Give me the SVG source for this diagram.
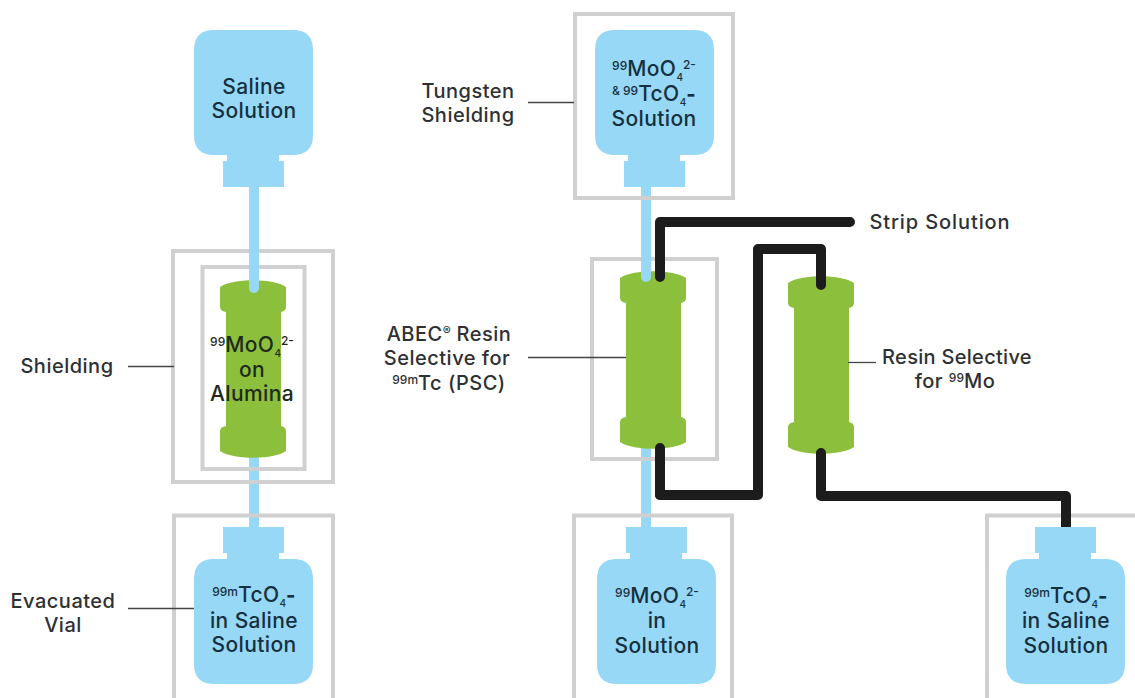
<svg xmlns="http://www.w3.org/2000/svg" width="1135" height="698" viewBox="0 0 1135 698">
<style>
.box{fill:none;stroke:#d0d0d0;stroke-width:4}
.vial{fill:#97d8f7}
.col{fill:#8cc03c}
.tube{fill:none;stroke:#97d8f7;stroke-width:10}
.blk{fill:none;stroke:#1c1c1c;stroke-width:10;stroke-linecap:round;stroke-linejoin:round}
.lead{fill:none;stroke:#444;stroke-width:1.3}
text{font-family:Inter,"Open Sans","Liberation Sans",sans-serif;font-size:20px;font-weight:500;letter-spacing:.5px;fill:#2e3033;text-anchor:middle}
.in{fill:#15303f;font-size:21px;letter-spacing:.4px}
.col-t{fill:#1f2a1c;font-size:21px;letter-spacing:.4px}
.sup{font-size:12px;letter-spacing:0}
.sub{font-size:10px;letter-spacing:0}
.dash{font-weight:800;font-size:20px}
</style>
<defs>
<path id="vialDown" d="M0 20Q0 0 20 0H99Q119 0 119 20V105Q119 125 99 125H85V131H90V157H29V131H33V125H20Q0 125 0 105Z"/>
<path id="vialUp" d="M29 0H90V26H85V32H99Q119 32 119 52V137Q119 157 99 157H20Q0 157 0 137V52Q0 32 20 32H33V26H29Z"/>
<path id="column" d="M0 7C12 -2 54 -2 66 7V27Q66 31 61 32V146Q66 147 66 151V171C54 180 12 180 0 171V151Q0 147 6 146V32Q0 31 0 27Z"/>
</defs>

<g id="connectors">
<path class="tube" d="M254 186V288"/>
<path class="tube" d="M254 452V530"/>
<path class="tube" d="M646 184V277"/>
<path class="tube" d="M646 445V530"/>
</g>

<g id="shield-left-outer"><rect class="box" x="173" y="251" width="160" height="231"/></g>
<g id="shield-left-inner"><rect class="box" x="202.500" y="267" width="102" height="202"/></g>
<g id="shield-psc"><rect class="box" x="592" y="259" width="125" height="200"/></g>
<g id="shield-top"><rect class="box" x="575" y="14" width="158" height="184"/></g>
<g id="evac-left"><path class="box" d="M174 698V515.500H333V698"/></g>
<g id="evac-mid"><path class="box" d="M574 698V515.500H732V698"/></g>
<g id="evac-right"><path class="box" d="M987 698V515.500H1135"/></g>

<g id="column-left"><use href="#column" class="col" x="220" y="280"/><path class="tube" d="M254 250V288" stroke-linecap="round"/></g>
<g id="column-psc"><use href="#column" class="col" x="620" y="271"/></g>
<g id="column-mo"><use href="#column" class="col" x="788" y="276"/></g>

<g id="tube-overlays">
<path class="tube" stroke-linecap="round" d="M646 240V277"/>
<path class="blk" d="M660 277V222H850"/>
<path class="blk" d="M821 285V249H758V495H660"/>
<path class="blk" stroke-linecap="butt" d="M660 495V448"/>
<path class="blk" stroke-linecap="butt" d="M821 453V496H1066V527"/>
</g>

<g id="vial-saline"><use href="#vialDown" class="vial" x="194" y="30"/>
<text class="in" x="254" y="94">Saline</text><text class="in" x="254" y="118">Solution</text></g>

<g id="vial-top"><use href="#vialDown" class="vial" x="595" y="30"/>
<text class="in" x="654" y="76"><tspan class="sup" dy="-6">99</tspan><tspan dy="6">MoO</tspan><tspan class="sub" dy="5">4</tspan><tspan class="sup" dy="-12">2-</tspan></text>
<text class="in" x="654" y="101"><tspan class="sup" dy="-6">&amp; 99</tspan><tspan dy="6">TcO</tspan><tspan class="sub" dy="5">4</tspan><tspan class="dash" dy="-5">-</tspan></text>
<text class="in" x="654" y="126">Solution</text></g>

<g id="vial-left-bottom"><use href="#vialUp" class="vial" x="194" y="527"/>
<text class="in" x="254" y="602"><tspan class="sup" dy="-6">99m</tspan><tspan dy="6">TcO</tspan><tspan class="sub" dy="5">4</tspan><tspan class="dash" dy="-5">-</tspan></text>
<text class="in" x="254" y="628">in Saline</text><text class="in" x="254" y="652">Solution</text></g>

<g id="vial-mid-bottom"><use href="#vialUp" class="vial" x="597" y="527"/>
<text class="in" x="657" y="603"><tspan class="sup" dy="-6">99</tspan><tspan dy="6">MoO</tspan><tspan class="sub" dy="5">4</tspan><tspan class="sup" dy="-12">2-</tspan></text>
<text class="in" x="657" y="628">in</text><text class="in" x="657" y="653">Solution</text></g>

<g id="vial-right-bottom"><use href="#vialUp" class="vial" x="1006" y="527"/>
<text class="in" x="1066" y="603"><tspan class="sup" dy="-6">99m</tspan><tspan dy="6">TcO</tspan><tspan class="sub" dy="5">4</tspan><tspan class="dash" dy="-5">-</tspan></text>
<text class="in" x="1066" y="628">in Saline</text><text class="in" x="1066" y="653">Solution</text></g>

<g id="label-column-left">
<text class="col-t" x="252" y="352"><tspan class="sup" dy="-6">99</tspan><tspan dy="6">MoO</tspan><tspan class="sub" dy="5">4</tspan><tspan class="sup" dy="-12">2-</tspan></text>
<text class="col-t" x="252" y="377">on</text><text class="col-t" x="252" y="401">Alumina</text></g>

<g id="label-shielding"><text x="67" y="373">Shielding</text><path class="lead" d="M128 366.500H174"/></g>
<g id="label-evacuated"><text x="63" y="608">Evacuated</text><text x="63" y="632">Vial</text><path class="lead" d="M128 608.500H194"/></g>
<g id="label-tungsten"><text x="468" y="98">Tungsten</text><text x="468" y="122">Shielding</text><path class="lead" d="M528 102.500H574"/></g>
<g id="label-abec"><text x="449" y="341">ABEC<tspan class="sup" dy="-6">®</tspan><tspan dy="6"> Resin</tspan></text><text x="447" y="365">Selective for</text>
<text x="449" y="390"><tspan class="sup" dy="-6">99m</tspan><tspan dy="6">Tc (PSC)</tspan></text><path class="lead" d="M528 357.500H626"/></g>
<g id="label-strip"><text x="940" y="229" style="letter-spacing:.9px">Strip Solution</text></g>
<g id="label-resin-mo"><text x="957" y="364" style="letter-spacing:.3px">Resin Selective</text><text x="955" y="388">for <tspan class="sup" dy="-6">99</tspan><tspan dy="6">Mo</tspan></text><path class="lead" d="M848 362.500H876"/></g>
</svg>
